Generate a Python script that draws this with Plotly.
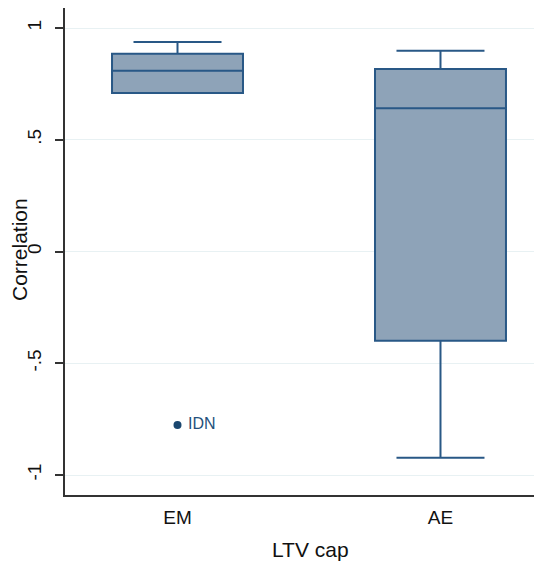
import plotly.graph_objects as go

# Data
categories = ["EM", "AE"]
cat_pos = [0, 1]
lower_whisker = [0.709, -0.923]
q1 = [0.709, -0.399]
median = [0.809, 0.641]
q3 = [0.885, 0.817]
upper_whisker = [0.937, 0.898]
outlier_labels = ["IDN"]
outlier_pos = [0]
outlier_values = [-0.776]
ytick_vals = [-1, -0.5, 0, 0.5, 1]
ytick_text = ["-1", "-.5", "0", ".5", "1"]

FONT = "Liberation Sans, Arial, sans-serif"
LINE = "#295886"
FILL = "#8ea3b8"

fig = go.Figure()
fig.add_trace(go.Box(
    x=cat_pos, q1=q1, median=median, q3=q3,
    lowerfence=lower_whisker, upperfence=upper_whisker,
    width=0.498, whiskerwidth=0.672,
    fillcolor=FILL, line=dict(color=LINE, width=2),
    boxpoints=False, showlegend=False, hoverinfo="skip",
))
fig.add_trace(go.Scatter(
    x=outlier_pos, y=outlier_values, mode="markers+text",
    text=[" " + t for t in outlier_labels], textposition="middle right",
    textfont=dict(family=FONT, size=16, color="#24507c"),
    marker=dict(color="#1a476f", size=8),
    showlegend=False, cliponaxis=False,
))

fig.update_layout(
    width=534, height=556,
    margin=dict(l=57, r=0, t=0, b=69),
    paper_bgcolor="white", plot_bgcolor="white",
    font=dict(family=FONT, color="#111111"),
    xaxis=dict(
        range=[-0.4278, 1.386], tickvals=cat_pos, ticktext=categories,
        showgrid=False, zeroline=False, showline=True,
        linecolor="#333333", linewidth=2, ticks="",
        tickfont=dict(size=19, family=FONT, color="#111111"),
        ticklabelstandoff=4,
    ),
    yaxis=dict(
        range=[-1.0895, 1.0895], tickvals=ytick_vals, ticktext=ytick_text,
        showgrid=True, gridcolor="#e8f1f3", gridwidth=1,
        zeroline=False, showline=True, linecolor="#333333", linewidth=2,
        ticks="outside", ticklen=8, tickwidth=1.5, tickcolor="#333333",
        tickangle=-90, tickfont=dict(size=19, family=FONT, color="#111111"),
        ticklabelstandoff=6,
    ),
    annotations=[
        dict(text="Correlation", xref="paper", yref="paper",
             x=(19 - 65) / 477, y=(495 - 250) / 487, textangle=-90,
             xanchor="center", yanchor="middle", showarrow=False,
             font=dict(size=21, family=FONT, color="#111111")),
        dict(text="LTV cap", xref="paper", yref="paper",
             x=(310 - 65) / 477, y=(495 - 549) / 487,
             xanchor="center", yanchor="middle", showarrow=False,
             font=dict(size=21, family=FONT, color="#111111")),
    ],
)

fig.write_html("out.html")
